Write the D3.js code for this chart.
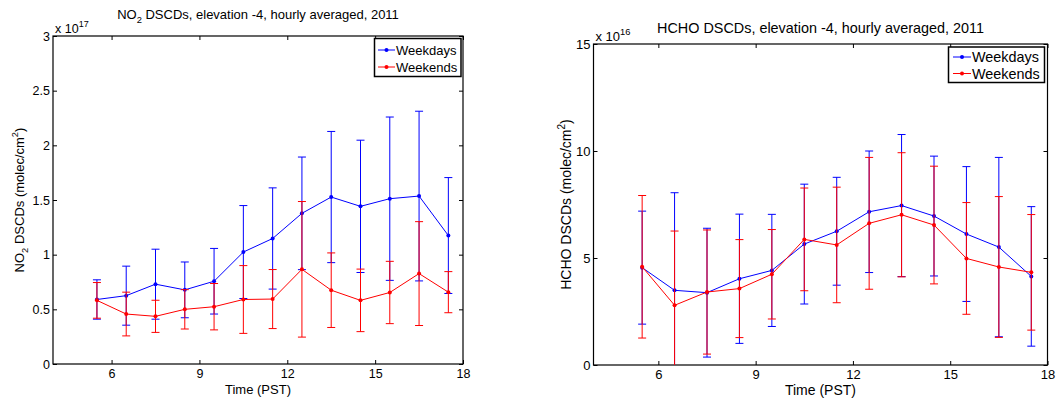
<!DOCTYPE html>
<html>
<head>
<meta charset="utf-8">
<script src="https://cdn.jsdelivr.net/npm/d3@7"></script>
<style>
  body { margin: 0; background: #fff; }
  svg text { font-family: "Liberation Sans", Arial, Helvetica, sans-serif; fill: #000; }
</style>
</head>
<body>
<svg id="chart" width="1060" height="402"></svg>
<script>
// Hour-of-day bins (PST), centred on the half hour
const hours = [5.5, 6.5, 7.5, 8.5, 9.5, 10.5, 11.5, 12.5, 13.5, 14.5, 15.5, 16.5, 17.5];
const xTicks = [6, 9, 12, 15, 18];

// NO2 DSCDs, units of 1e17 molec/cm^2 (mean and 1-sigma)
const no2Weekday    = [0.59, 0.625, 0.73, 0.678, 0.757, 1.024, 1.148, 1.378, 1.527, 1.442, 1.512, 1.536, 1.175];
const no2WeekdayErr = [0.18, 0.27, 0.32, 0.255, 0.30, 0.425, 0.463, 0.515, 0.60, 0.605, 0.747, 0.776, 0.53];
const no2Weekend    = [0.582, 0.457, 0.436, 0.50, 0.524, 0.59, 0.594, 0.866, 0.675, 0.582, 0.654, 0.827, 0.657];
const no2WeekendErr = [0.163, 0.20, 0.147, 0.18, 0.212, 0.31, 0.27, 0.62, 0.341, 0.286, 0.285, 0.475, 0.188];
const no2Ticks = [0, 0.5, 1, 1.5, 2, 2.5, 3];

// HCHO DSCDs, units of 1e16 molec/cm^2 (mean and 1-sigma)
const hchoWeekday    = [4.55, 3.49, 3.38, 4.03, 4.42, 5.65, 6.25, 7.16, 7.45, 6.96, 6.12, 5.51, 4.14];
const hchoWeekdayErr = [2.64, 4.56, 3.01, 3.02, 2.62, 2.80, 2.52, 2.84, 3.32, 2.80, 3.15, 4.19, 3.26];
const hchoWeekend    = [4.59, 2.79, 3.41, 3.57, 4.24, 5.87, 5.61, 6.62, 7.02, 6.54, 4.98, 4.58, 4.33];
const hchoWeekendErr = [3.33, 3.47, 2.90, 2.29, 2.09, 2.40, 2.70, 3.08, 2.90, 2.75, 2.61, 3.29, 2.70];
const hchoTicks = [0, 5, 10, 15];

const seriesNames = ["Weekdays", "Weekends"];
const seriesColors = ["#0000ff", "#ff0000"];

const svg = d3.select("#chart");

function panel(p) {
  const x = d3.scaleLinear().domain([4, 18]).range([p.x0, p.x1]);
  const y = d3.scaleLinear().domain([0, p.yMax]).range([p.y1, p.y0]);
  const g = svg.append("g");

  g.append("clipPath").attr("id", p.id + "-clip")
    .append("rect").attr("x", p.x0).attr("y", p.y0)
    .attr("width", p.x1 - p.x0).attr("height", p.y1 - p.y0);

  // inward ticks on all four sides
  const fs = p.tickFont + "px";
  const bottom = g.append("g").attr("transform", `translate(0,${p.y1})`)
    .call(d3.axisBottom(x).tickValues(xTicks).tickSize(-4).tickSizeOuter(0).tickPadding(p.xPad).tickFormat(d3.format("d")));
  const top = g.append("g").attr("transform", `translate(0,${p.y0})`)
    .call(d3.axisTop(x).tickValues(xTicks).tickSize(-4).tickSizeOuter(0).tickFormat(""));
  const left = g.append("g").attr("transform", `translate(${p.x0},0)`)
    .call(d3.axisLeft(y).tickValues(p.yTicks).tickSize(-4).tickSizeOuter(0).tickPadding(3).tickFormat(d => String(d)));
  const right = g.append("g").attr("transform", `translate(${p.x1},0)`)
    .call(d3.axisRight(y).tickValues(p.yTicks).tickSize(-4).tickSizeOuter(0).tickFormat(""));
  [bottom, top, left, right].forEach(a => {
    a.select(".domain").remove();
    a.selectAll("line").attr("stroke", "#000");
    a.selectAll("text").attr("font-size", fs).attr("font-family", null).attr("fill", "#000");
  });

  // frame
  g.append("rect").attr("x", p.x0).attr("y", p.y0)
    .attr("width", p.x1 - p.x0).attr("height", p.y1 - p.y0)
    .attr("fill", "none").attr("stroke", "#000").attr("stroke-width", 1.2);

  // series: error bars, line, markers
  p.series.forEach((s, i) => {
    const col = seriesColors[i];
    const sg = g.append("g").attr("clip-path", `url(#${p.id}-clip)`);
    const cap = p.cap;
    hours.forEach((h, j) => {
      const cx = x(h), lo = y(s.mean[j] - s.err[j]), hi = y(s.mean[j] + s.err[j]);
      sg.append("line").attr("x1", cx).attr("x2", cx).attr("y1", lo).attr("y2", hi)
        .attr("stroke", col).attr("stroke-width", 1);
      [lo, hi].forEach(yy => sg.append("line")
        .attr("x1", cx - cap).attr("x2", cx + cap).attr("y1", yy).attr("y2", yy)
        .attr("stroke", col).attr("stroke-width", 1));
    });
    const line = d3.line().x((d, j) => x(hours[j])).y(d => y(d));
    sg.append("path").datum(s.mean).attr("d", line)
      .attr("fill", "none").attr("stroke", col).attr("stroke-width", 1);
    sg.selectAll(null).data(s.mean).enter().append("circle")
      .attr("cx", (d, j) => x(hours[j])).attr("cy", d => y(d)).attr("r", 2)
      .attr("fill", col);
  });

  // title
  const t = g.append("text").attr("x", (p.x0 + p.x1) / 2).attr("y", p.titleY)
    .attr("text-anchor", "middle").attr("font-size", p.titleFont + "px");
  p.titleParts.forEach(part => {
    const ts = t.append("tspan").text(part.text);
    if (part.sub) ts.attr("dy", part.dy).attr("font-size", (p.titleFont * 0.72) + "px");
    else if (part.dy) ts.attr("dy", part.dy);
  });

  // exponent multiplier
  const m = g.append("text").attr("x", p.x0 + 2).attr("y", p.multY).attr("font-size", p.tickFont + "px");
  m.append("tspan").text("x 10");
  m.append("tspan").text(p.exponent).attr("dy", -6).attr("font-size", (p.tickFont * 0.72) + "px");

  // x label
  g.append("text").attr("x", (p.x0 + p.x1) / 2).attr("y", p.xLabelY)
    .attr("text-anchor", "middle").attr("font-size", p.labelFont + "px").text("Time (PST)");

  // y label
  const yl = g.append("text")
    .attr("transform", `translate(${p.yLabelX},${(p.y0 + p.y1) / 2}) rotate(-90)`)
    .attr("text-anchor", "middle").attr("font-size", p.labelFont + "px");
  p.yLabelParts.forEach(part => {
    const ts = yl.append("tspan").text(part.text);
    if (part.small) ts.attr("font-size", (p.labelFont * 0.72) + "px");
    if (part.dy) ts.attr("dy", part.dy);
  });

  // legend
  const L = p.legend;
  const lg = g.append("g");
  lg.append("rect").attr("x", L.x).attr("y", L.y).attr("width", L.w).attr("height", L.h)
    .attr("fill", "#fff").attr("stroke", "#000").attr("stroke-width", 1.5);
  seriesNames.forEach((name, i) => {
    const ry = L.rows[i];
    lg.append("line").attr("x1", L.lx0).attr("x2", L.lx1).attr("y1", ry).attr("y2", ry)
      .attr("stroke", seriesColors[i]).attr("stroke-width", 1);
    lg.append("circle").attr("cx", (L.lx0 + L.lx1) / 2).attr("cy", ry).attr("r", 2)
      .attr("fill", seriesColors[i]);
    lg.append("text").attr("x", L.tx).attr("y", ry).attr("dy", "0.36em")
      .attr("font-size", p.legendFont + "px").text(name);
  });
}

panel({
  id: "no2", x0: 53, x1: 463, y0: 36, y1: 364, yMax: 3, yTicks: no2Ticks,
  tickFont: 12.5, titleFont: 13, labelFont: 13, legendFont: 13, cap: 4, xPad: 5,
  titleY: 19,
  titleParts: [{ text: "NO" }, { text: "2", sub: true, dy: 4 }, { text: " DSCDs, elevation -4, hourly averaged, 2011", dy: -4 }],
  exponent: "17", multY: 33,
  xLabelY: 393.5,
  yLabelX: 24,
  yLabelParts: [{ text: "NO" }, { text: "2", small: true, dy: 4 }, { text: " DSCDs (molec/cm", dy: -4 }, { text: "2", small: true, dy: -6 }, { text: ")", dy: 6 }],
  series: [{ mean: no2Weekday, err: no2WeekdayErr }, { mean: no2Weekend, err: no2WeekendErr }],
  legend: { x: 374.5, y: 38.5, w: 86.5, h: 38, rows: [50, 67], lx0: 378, lx1: 395, tx: 396 }
});

panel({
  id: "hcho", x0: 593.5, x1: 1047.5, y0: 44, y1: 365, yMax: 15, yTicks: hchoTicks,
  tickFont: 13, titleFont: 14.4, labelFont: 14, legendFont: 14.4, cap: 4, xPad: 5,
  titleY: 33,
  titleParts: [{ text: "HCHO DSCDs, elevation -4, hourly averaged, 2011" }],
  exponent: "16", multY: 40.5,
  xLabelY: 395,
  yLabelX: 571,
  yLabelParts: [{ text: "HCHO DSCDs (molec/cm" }, { text: "2", small: true, dy: -6 }, { text: ")", dy: 6 }],
  series: [{ mean: hchoWeekday, err: hchoWeekdayErr }, { mean: hchoWeekend, err: hchoWeekendErr }],
  legend: { x: 948.5, y: 47, w: 96, h: 35.5, rows: [57, 73.5], lx0: 953, lx1: 971, tx: 972 }
});
</script>
</body>
</html>
